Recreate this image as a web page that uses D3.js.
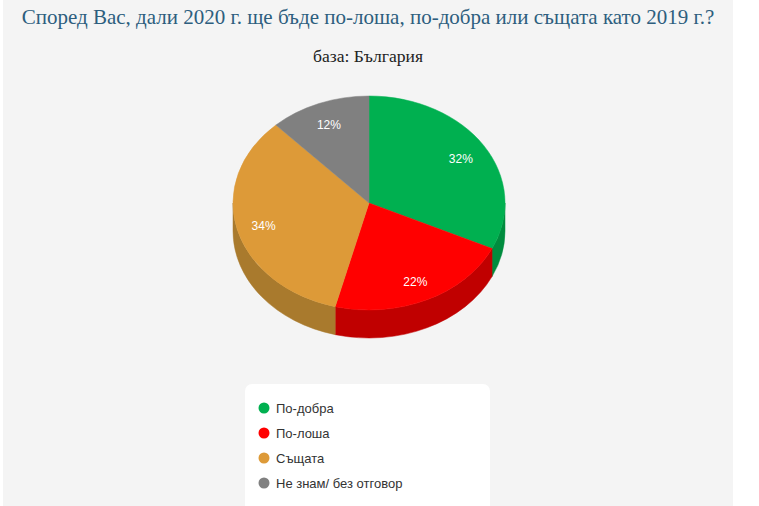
<!DOCTYPE html>
<html><head><meta charset="utf-8">
<script src="https://cdn.jsdelivr.net/npm/d3@7"></script>
<style>html,body{margin:0;padding:0;background:#fff;}svg{display:block;}</style>
</head><body>
<svg id="chart" width="759" height="506"></svg>
<script>
const titleText = "Според Вас, дали 2020 г. ще бъде по-лоша, по-добра или същата като 2019 г.?";
const subtitleText = "база: България";
const categories = ["По-добра", "По-лоша", "Същата", "Не знам/ без отговор"];
const values = [32, 22, 34, 12];
const topColors = ["#00b050", "#ff0000", "#dd9a38", "#808080"];
const sideColors = ["#008c3e", "#c00000", "#a97a2d", "#5f5f5f"];

const svg = d3.select("#chart");
svg.append("rect").attr("x", 3).attr("y", 0).attr("width", 730).attr("height", 506).attr("fill", "#f4f4f4");

const title = svg.append("text").attr("x", 368).attr("y", 24).attr("text-anchor", "middle")
  .attr("font-family", "Liberation Serif, serif").attr("font-size", 21).attr("fill", "#2d5e7e")
  .text(titleText);
const tw = title.node().getComputedTextLength();
if (Math.abs(tw - 690) > 4) title.attr("textLength", 690).attr("lengthAdjust", "spacingAndGlyphs");

const sub = svg.append("text").attr("x", 368).attr("y", 62).attr("text-anchor", "middle")
  .attr("font-family", "Liberation Serif, serif").attr("font-size", 16).attr("fill", "#222")
  .text(subtitleText);
const sw = sub.node().getComputedTextLength();
if (Math.abs(sw - 110) > 3) sub.attr("textLength", 110).attr("lengthAdjust", "spacingAndGlyphs");

// 3D pie
const cx = 369, cy = 203, rx = 136, ry = 107, depth = 28;
const pie = d3.pie().sort(null).value(d => d.v).startAngle(0).endAngle(2 * Math.PI);
const data = categories.map((c, i) => ({c, v: values[i], i}));
const arcs = pie(data);
const px = a => cx + rx * Math.sin(a);
const py = a => cy - ry * Math.cos(a);

function sidePath(s, e) {
  const a0 = Math.max(s, Math.PI / 2), a1 = Math.min(e, 3 * Math.PI / 2);
  if (a1 <= a0) return null;
  const lg = (a1 - a0) > Math.PI ? 1 : 0;
  return `M${px(a0)},${py(a0)} A${rx},${ry} 0 ${lg} 1 ${px(a1)},${py(a1)} L${px(a1)},${py(a1) + depth} A${rx},${ry} 0 ${lg} 0 ${px(a0)},${py(a0) + depth} Z`;
}
function topPath(s, e) {
  const lg = (e - s) > Math.PI ? 1 : 0;
  return `M${cx},${cy} L${px(s)},${py(s)} A${rx},${ry} 0 ${lg} 1 ${px(e)},${py(e)} Z`;
}

const g = svg.append("g");
arcs.forEach(a => {
  const p = sidePath(a.startAngle, a.endAngle);
  if (p) g.append("path").attr("d", p).attr("fill", sideColors[a.data.i]).attr("stroke", sideColors[a.data.i]).attr("stroke-width", 0.5);
});
arcs.forEach(a => {
  g.append("path").attr("d", topPath(a.startAngle, a.endAngle)).attr("fill", topColors[a.data.i])
    .attr("stroke", topColors[a.data.i]).attr("stroke-width", 0.5);
});
const fmt = d3.format(".0f");
arcs.forEach(a => {
  const m = (a.startAngle + a.endAngle) / 2;
  g.append("text").attr("x", cx + 0.8 * rx * Math.sin(m)).attr("y", cy - 0.8 * ry * Math.cos(m) + 6)
    .attr("text-anchor", "middle").attr("font-family", "Liberation Sans, Arial, sans-serif")
    .attr("font-size", 12).attr("fill", "#fff").text(fmt(a.data.v) + "%");
});

// Legend
svg.append("rect").attr("x", 245).attr("y", 384).attr("width", 245).attr("height", 140).attr("rx", 7)
  .attr("fill", "#fff");
const leg = svg.append("g");
categories.forEach((c, i) => {
  const y = 408 + i * 25;
  leg.append("circle").attr("cx", 264).attr("cy", y).attr("r", 5.5).attr("fill", topColors[i]);
  leg.append("text").attr("x", 276).attr("y", y + 5).attr("font-family", "Liberation Sans, Arial, sans-serif")
    .attr("font-size", 13).attr("fill", "#333").text(c);
});
</script>
</body></html>
